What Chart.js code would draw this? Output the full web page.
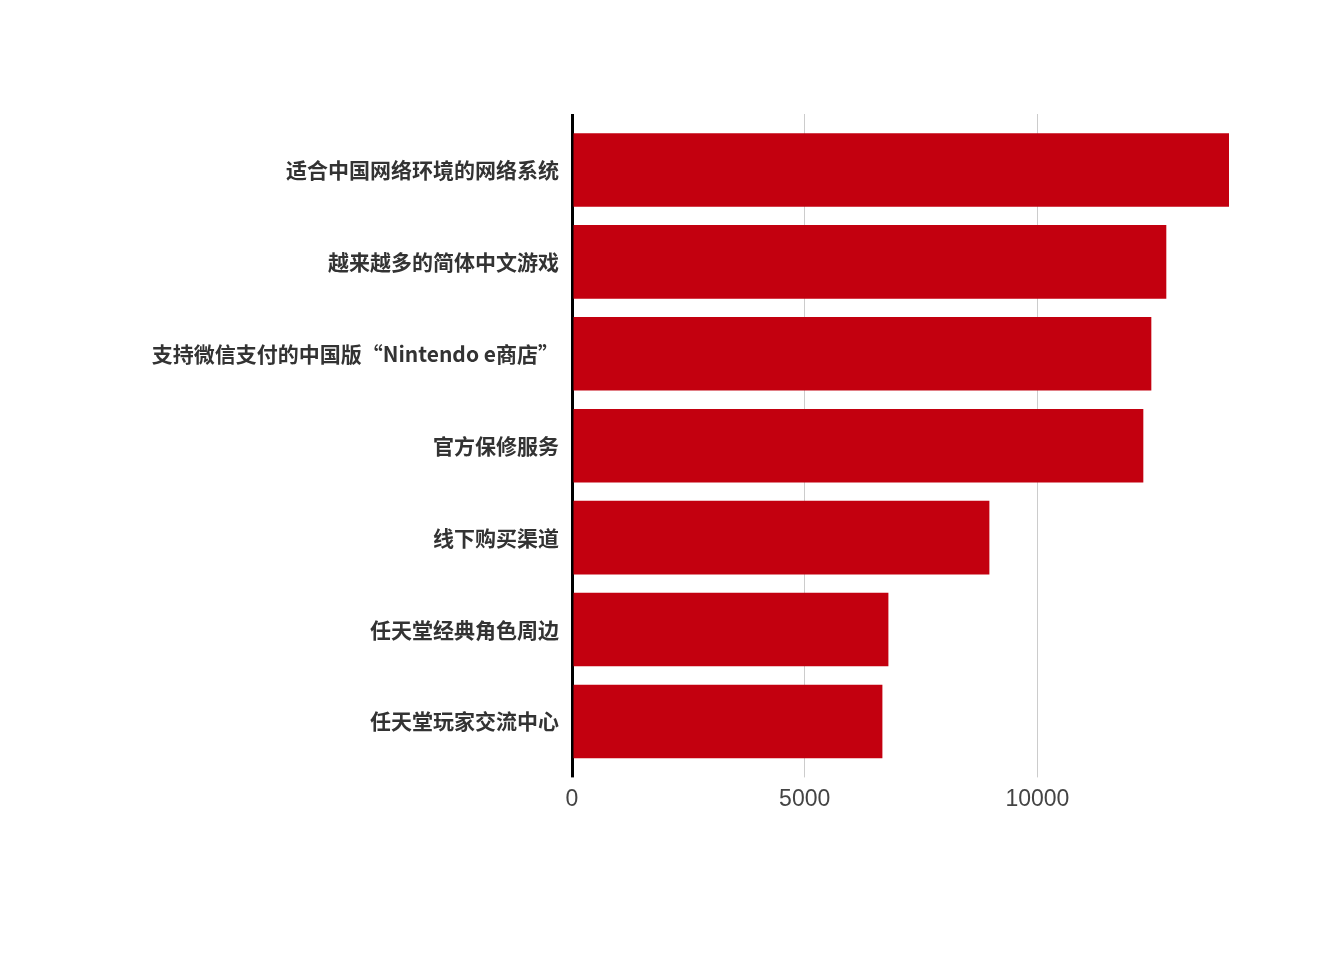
<!DOCTYPE html>
<html>
<head>
<meta charset="utf-8">
<script src="https://cdn.jsdelivr.net/npm/chart.js@4/dist/chart.umd.min.js"></script>
<style>
  html, body { margin: 0; padding: 0; background: #fff; }
  #wrap { width: 1344px; height: 960px; }
</style>
</head>
<body>
<div id="wrap"><canvas id="chart" width="1344" height="960"></canvas></div>
<script>
// categories, top to bottom
const labels = [
  '适合中国网络环境的网络系统',
  '越来越多的简体中文游戏',
  '支持微信支付的中国版“Nintendo e商店”',
  '官方保修服务',
  '线下购买渠道',
  '任天堂经典角色周边',
  '任天堂玩家交流中心'
]
const values = [14118, 12771, 12449, 12277, 8969, 6799, 6670]
const tickValues = [0, 5000, 10000]

const barColor = '#c3000f'
const maxValue = Math.max(...values)

const gridColor = (ctx) => (ctx.tick && ctx.tick.value === 0 ? '#000' : '#cccccc')
const gridWidth = (ctx) => (ctx.tick && ctx.tick.value === 0 ? 3 : 1)
const setTicks = (scale) => { scale.ticks = tickValues.map((v) => ({ value: v })) }

new Chart(document.getElementById('chart'), {
  type: 'bar',
  data: {
    labels: labels,
    datasets: [{
      data: values,
      backgroundColor: barColor,
      borderWidth: 0,
      categoryPercentage: 0.8,
      barPercentage: 1.0
    }]
  },
  options: {
    indexAxis: 'y',
    responsive: false,
    animation: false,
    devicePixelRatio: 1,
    layout: { padding: { top: 114, right: 115, bottom: 139, left: 0 } },
    plugins: { legend: { display: false }, tooltip: { enabled: false } },
    scales: {
      x: {
        type: 'linear',
        min: 0,
        max: maxValue,
        afterBuildTicks: setTicks,
        border: { display: false },
        grid: { color: gridColor, lineWidth: gridWidth, drawTicks: true, tickLength: 10 },
        ticks: {
          padding: 8,
          color: '#444',
          callback: (v) => String(v),
          font: { family: '"Liberation Sans", Arial, sans-serif', size: 23 }
        }
      },
      xTop: {
        type: 'linear',
        position: 'top',
        min: 0,
        max: maxValue,
        afterBuildTicks: setTicks,
        border: { display: false },
        grid: { color: gridColor, lineWidth: gridWidth, drawOnChartArea: false, drawTicks: true, tickLength: 10 },
        ticks: { display: false }
      },
      y: {
        type: 'category',
        border: { display: false },
        grid: { display: false, drawTicks: false },
        afterFit: (scale) => { scale.width = 572 },
        ticks: {
          padding: 13,
          color: '#333',
          font: { family: '"Noto Sans CJK SC", "Noto Sans", sans-serif', size: 21, weight: 'bold' }
        }
      }
    }
  }
})
</script>
</body>
</html>
